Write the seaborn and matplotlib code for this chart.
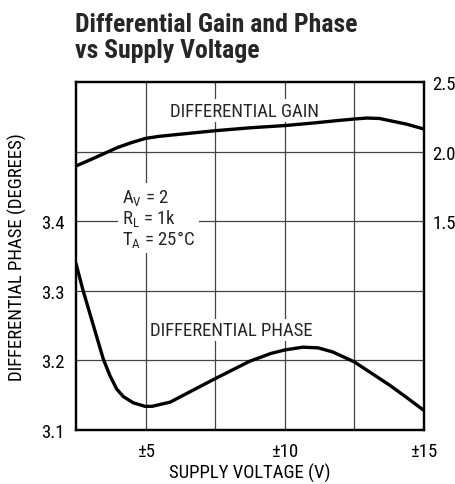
import matplotlib
matplotlib.use("Agg")
import matplotlib.pyplot as plt
import seaborn as sns
import pandas as pd

# ---- data ----
gain_voltage = [2.5, 3.0, 3.5, 4.0, 4.5, 5.0, 5.5, 6.0, 7.5, 8.75, 10.0, 11.0, 12.0, 12.5, 12.94, 13.4, 13.78, 14.38, 15.0]
gain_values = [1.897, 1.94, 1.985, 2.03, 2.065, 2.095, 2.11, 2.12, 2.15, 2.171, 2.187, 2.205, 2.225, 2.234, 2.241, 2.238, 2.222, 2.197, 2.162]

phase_voltage = [2.5, 2.75, 3.0, 3.48, 3.72, 3.96, 4.20, 4.56, 4.98, 5.23, 5.88, 7.46, 8.75, 9.1, 9.5, 10.0, 10.65, 11.2, 11.73, 12.49, 13.1, 13.78, 14.4, 15.0]
phase_values = [3.339, 3.301, 3.267, 3.202, 3.178, 3.159, 3.148, 3.139, 3.134, 3.134, 3.140, 3.173, 3.199, 3.204, 3.210, 3.215, 3.219, 3.218, 3.212, 3.198, 3.182, 3.164, 3.146, 3.128]

x_ticks = [5, 10, 15]
x_tick_labels = ["±5", "±10", "±15"]
x_grid = [2.5, 5, 7.5, 10, 12.5, 15]
left_ticks = [3.1, 3.2, 3.3, 3.4, 3.5, 3.6]
left_tick_labels = ["3.1", "3.2", "3.3", "3.4", "", ""]
right_ticks = [1.5, 2.0, 2.5]
right_tick_labels = ["1.5", "2.0", "2.5"]

sns.set_theme(style="white")
FONT = ["Roboto Condensed", "Liberation Sans", "DejaVu Sans"]
plt.rcParams["font.family"] = FONT
plt.rcParams["mathtext.fontset"] = "custom"
plt.rcParams["mathtext.rm"] = "Roboto Condensed"
plt.rcParams["mathtext.it"] = "Roboto Condensed"
plt.rcParams["mathtext.bf"] = "Roboto Condensed:bold"

FS = 13.5

fig = plt.figure(figsize=(4.56, 4.85), dpi=100)
ax = fig.add_axes([76 / 456, 1 - 431 / 485, 348 / 456, 348 / 485])
ax2 = ax.twinx()

gain_df = pd.DataFrame({"v": gain_voltage, "g": gain_values})
phase_df = pd.DataFrame({"v": phase_voltage, "p": phase_values})

sns.lineplot(data=phase_df, x="v", y="p", ax=ax, color="black", linewidth=2.4, zorder=5)
sns.lineplot(data=gain_df, x="v", y="g", ax=ax2, color="black", linewidth=2.4, zorder=5)

ax.set_xlim(2.5, 15)
ax.set_ylim(3.1, 3.6)
ax2.set_ylim(0, 2.5)

# grid
for xv in x_grid[1:-1]:
    ax.axvline(xv, color="#444444", linewidth=0.9, zorder=1)
for yv in left_ticks[1:-1]:
    ax.axhline(yv, color="#444444", linewidth=0.9, zorder=1)

ax.set_xticks(x_ticks)
ax.set_xticklabels(x_tick_labels)
ax.set_yticks(left_ticks)
ax.set_yticklabels(left_tick_labels)
ax2.set_yticks(right_ticks)
ax2.set_yticklabels(right_tick_labels)

ax.tick_params(axis="x", length=0, pad=9, labelsize=FS, colors="black")
ax.tick_params(axis="y", length=0, pad=8, labelsize=FS, colors="black")
ax2.tick_params(axis="y", length=0, pad=6, labelsize=FS, colors="black")

ax.set_xlabel("SUPPLY VOLTAGE (V)", fontsize=FS, labelpad=2, color="black")
ax.set_ylabel("DIFFERENTIAL PHASE (DEGREES)", fontsize=FS, labelpad=10, color="black")
ax2.set_ylabel("")

for a in (ax, ax2):
    for s in a.spines.values():
        s.set_visible(True)
        s.set_color("black")
        s.set_linewidth(1.6)

bbox_white = dict(facecolor="white", edgecolor="none", pad=1.5)
ax.text(8.57, 3.559, "DIFFERENTIAL GAIN", fontsize=FS, ha="center", va="center",
        bbox=bbox_white, zorder=4)
ax.text(8.09, 3.2437, "DIFFERENTIAL PHASE", fontsize=FS, ha="center", va="center",
        bbox=bbox_white, zorder=4)
ax.text(4.15, 3.449,
        "A$_{\\mathrm{V}}$ = 2\nR$_{\\mathrm{L}}$ = 1k\nT$_{\\mathrm{A}}$ = 25°C",
        fontsize=FS, ha="left", va="top", linespacing=1.0,
        bbox=dict(facecolor="white", edgecolor="none", pad=3), zorder=4)

fig.text(75 / 456, 1 - 13 / 485, "Differential Gain and Phase\nvs Supply Voltage",
         fontsize=18.5, fontweight="bold", ha="left", va="top", linespacing=1.12)

fig.savefig("out.png", dpi=100)
